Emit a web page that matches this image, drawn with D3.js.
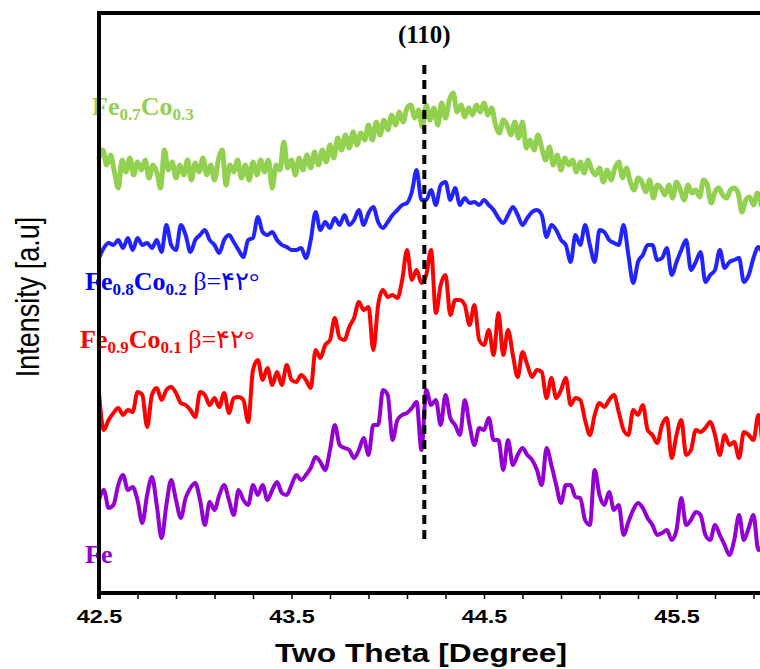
<!DOCTYPE html>
<html>
<head>
<meta charset="utf-8">
<script src="https://cdn.jsdelivr.net/npm/d3@7/dist/d3.min.js"></script>
<style>
  body { margin: 0; background: #fff; }
  svg { display: block; }
</style>
</head>
<body>
<svg id="chart" width="760" height="669"></svg>
<script>
// ---- XRD scan data (2θ in degrees, intensity in a.u., vertically offset per sample) ----
const thetaStart = 42.5;
const stepFine = 0.02;     // Fe0.7Co0.3 scan step
const stepCoarse = 0.025;  // other scans step

const intensityFeCo73 = [442,450,435,445,428,412,440,428,442,425,438,430,440,422,435,428,412,450,430,438,
  422,435,425,440,420,437,428,442,425,435,420,440,450,415,435,428,440,422,435,420,
  438,425,440,428,440,412,435,430,458,432,440,425,442,430,445,432,448,435,450,438,
  455,442,462,450,465,452,468,455,467,460,475,460,478,465,480,470,485,475,488,478,
  492,495,482,490,473,495,480,492,475,497,482,500,507,488,495,483,492,485,495,488,
  497,485,492,475,467,480,475,465,478,462,478,452,460,450,465,452,440,453,435,445,
  430,442,435,440,428,438,427,440,430,425,432,418,430,420,432,438,422,432,418,410,
  422,418,408,420,402,415,412,405,415,402,418,410,400,415,407,410,403,420,415,397,
  408,412,405,402,410,412,407,388,400,403,395,407,395];

const intensityFeCo82 = [342,352,357,355,360,352,362,350,362,355,357,352,360,348,375,355,350,375,365,348,
  360,365,370,360,355,347,360,365,358,350,343,360,362,383,368,365,368,360,355,353,
  350,350,352,342,360,388,370,378,372,382,375,385,375,380,390,375,387,393,378,372,
  378,385,390,395,397,408,430,400,400,410,395,415,418,400,412,395,402,397,398,395,
  400,395,390,382,377,385,393,385,375,382,388,390,385,363,375,370,360,355,338,365,
  355,375,355,338,370,368,360,357,355,375,345,317,338,345,355,355,340,342,352,325,
  338,350,360,330,338,348,318,325,330,350,332,338,340,342,318,325,342,353,345];

const intensityFeCo91 = [207,170,180,187,192,185,190,188,208,205,173,205,212,200,210,213,207,197,195,190,
  183,208,205,195,202,193,207,187,202,203,200,178,230,240,220,232,215,228,215,235,
  220,218,225,220,212,250,242,255,260,282,262,260,273,282,298,290,293,250,295,310,
  303,305,302,320,350,320,330,317,325,350,287,315,325,285,300,300,295,275,295,260,
  255,270,245,287,245,270,245,223,248,235,223,230,228,202,222,202,210,222,195,202,
  200,180,165,185,197,193,200,205,188,170,165,190,185,195,170,165,157,175,182,142,
  165,180,145,150,170,168,172,178,165,145,165,155,158,142,168,165,160,185,145];

const intensityFe = [100,110,92,95,115,125,110,113,100,77,105,123,95,62,95,120,100,82,102,112,
  117,100,75,98,90,105,115,100,85,110,100,95,115,105,115,100,110,118,107,105,
  115,125,120,125,132,143,138,130,150,175,155,152,150,142,150,162,145,175,175,210,
  205,160,180,185,187,192,198,150,210,195,200,175,205,182,175,165,200,175,155,172,
  170,182,160,160,130,160,135,145,152,145,140,130,115,152,135,115,97,115,115,103,
  102,80,75,130,105,95,108,90,95,65,78,90,97,92,82,75,65,67,70,60,
  70,102,75,80,88,85,65,60,75,65,55,45,60,85,60,72,85,50,55];

const seriesNames = ["Fe0.7Co0.3", "Fe0.8Co0.2", "Fe0.9Co0.1", "Fe"];
const seriesColors = ["#92d050", "#2323ff", "#ff0000", "#9400d3"];
const labelColors = ["#92d050", "#0000ff", "#ff0000", "#9400d3"];
const seriesSteps = [stepFine, stepCoarse, stepCoarse, stepCoarse];
const seriesIntensity = [intensityFeCo73, intensityFeCo82, intensityFeCo91, intensityFe];
// label pieces: [text, kind]  kind: "m" main, "s" subscript, "n" normal-weight note
const labelParts = [
  [["Fe","m"],["0.7","s"],["Co","m"],["0.3","s"]],
  [["Fe","m"],["0.8","s"],["Co","m"],["0.2","s"],[" β=۴۲°","n"]],
  [["Fe","m"],["0.9","s"],["Co","m"],["0.1","s"],[" β=۴۲°","n"]],
  [["Fe","m"]]
];

const xTickLabels = [42.5, 43.5, 44.5, 45.5];
const xMinorStep = 0.2;
const xMinorCount = 18;
const peakTheta = 44.19;
const peakName = "(110)";
const peakSpan = [58, 535];   // intensity range covered by the reference line
const xTitle = "Two Theta [Degree]";
const yTitle = "Intensity [a.u]";

// ---- layout ----
const W = 760, H = 669;
const plot = { left: 99, top: 13, bottom: 593 };
const svg = d3.select("#chart");

const x = d3.scaleLinear().domain([42.5, 45.5]).range([plot.left, 676.5]);
const y = d3.scaleLinear().domain([7, 587]).range([plot.bottom, plot.top]);

const line = d3.line()
  .x(d => x(d.t))
  .y(d => y(d.v))
  .curve(d3.curveMonotoneX);

const seriesWidths = [5, 4, 4, 4];
seriesIntensity.forEach((vals, k) => {
  const pts = vals.map((v, i) => ({ t: thetaStart + i * seriesSteps[k], v }));
  svg.append("path")
    .datum(pts)
    .attr("d", line)
    .attr("fill", "none")
    .attr("stroke", seriesColors[k])
    .attr("stroke-width", seriesWidths[k])
    .attr("stroke-linejoin", "round")
    .attr("stroke-linecap", "round");
});

// (110) reference line
svg.append("line")
  .attr("x1", x(peakTheta)).attr("x2", x(peakTheta))
  .attr("y1", y(peakSpan[1])).attr("y2", y(peakSpan[0]))
  .attr("stroke", "#000").attr("stroke-width", 4)
  .attr("stroke-dasharray", "9,6");

svg.append("text")
  .attr("x", x(peakTheta)).attr("y", 43)
  .attr("text-anchor", "middle")
  .attr("font-family", "'Liberation Serif','Times New Roman',serif")
  .attr("font-weight", "bold").attr("font-size", 25)
  .text(peakName);

// series labels
const labelPos = [[92, 115], [85, 290], [80, 348], [85, 563]];
labelParts.forEach((parts, k) => {
  const t = svg.append("text")
    .attr("x", labelPos[k][0]).attr("y", labelPos[k][1])
    .attr("font-family", "'Liberation Serif','Times New Roman','DejaVu Sans',serif")
    .attr("font-size", 26)
    .attr("fill", labelColors[k]);
  let shift = 0;
  parts.forEach(([txt, kind]) => {
    const target = kind === "s" ? 5 : 0;
    t.append("tspan")
      .attr("dy", target - shift)
      .attr("font-size", kind === "s" ? 17 : 26)
      .attr("font-weight", kind === "n" ? "normal" : "bold")
      .text(txt);
    shift = target;
  });
});

// axes
const minorTicks = d3.range(xMinorCount).map(i => thetaStart + i * xMinorStep);
const xAxis = d3.axisBottom(x)
  .tickValues(minorTicks)
  .tickSize(6)
  .tickSizeOuter(0)
  .tickFormat(d => xTickLabels.some(m => Math.abs(m - d) < 1e-6) ? d3.format(".1f")(d) : "");

const gx = svg.append("g")
  .attr("transform", `translate(0,${plot.bottom})`)
  .call(xAxis);
gx.select(".domain").remove();
gx.selectAll(".tick line").attr("stroke", "#000").attr("stroke-width", 1.5);
gx.selectAll(".tick text")
  .attr("y", 30).attr("dy", 0)
  .attr("transform", "scale(1.3,1)")
  .attr("fill", "#000")
  .attr("font-family", "'Liberation Sans',Arial,sans-serif")
  .attr("font-weight", "bold")
  .attr("font-size", 18);

// frame lines: left axis, bottom axis, top border
svg.append("line").attr("x1", plot.left).attr("x2", plot.left)
  .attr("y1", plot.top - 2).attr("y2", plot.bottom + 6)
  .attr("stroke", "#000").attr("stroke-width", 4);
svg.append("line").attr("x1", plot.left - 2).attr("x2", W)
  .attr("y1", plot.bottom).attr("y2", plot.bottom)
  .attr("stroke", "#000").attr("stroke-width", 4);
svg.append("line").attr("x1", plot.left - 2).attr("x2", W)
  .attr("y1", plot.top).attr("y2", plot.top)
  .attr("stroke", "#000").attr("stroke-width", 4);

// axis titles
svg.append("text")
  .attr("transform", `translate(421,662) scale(1.22,1)`)
  .attr("text-anchor", "middle")
  .attr("font-family", "'Liberation Sans',Arial,sans-serif")
  .attr("font-weight", "bold").attr("font-size", 26)
  .text(xTitle);

svg.append("text")
  .attr("transform", `translate(39,297) rotate(-90) scale(1,1.22)`)
  .attr("text-anchor", "middle")
  .attr("font-family", "'Liberation Sans',Arial,sans-serif")
  .attr("font-size", 27)
  .text(yTitle);
</script>
</body>
</html>
